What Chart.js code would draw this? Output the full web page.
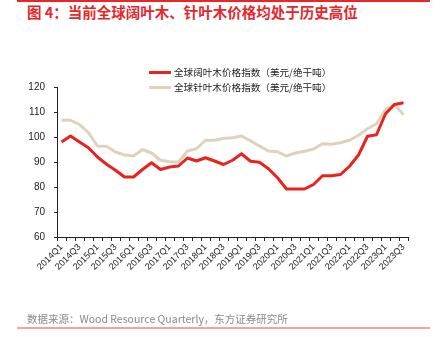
<!DOCTYPE html>
<html>
<head>
<meta charset="utf-8">
<script src="https://cdn.jsdelivr.net/npm/chart.js@4/dist/chart.umd.min.js"></script>
<style>
    body { margin: 0; background: #fff; }
    #wrap { position: relative; width: 445px; height: 337px; overflow: hidden;
            font-family: "Noto Sans CJK SC", "Liberation Sans", sans-serif; }
    #chart { position: absolute; left: 0; top: 0; }
    .rule { position: absolute; left: 17px; width: 413px; }
    #title { position: absolute; left: 27px; top: 3px; font-size: 14.5px; font-weight: bold;
             color: #e8262a; white-space: nowrap; line-height: 18px; }
    #source { position: absolute; left: 27px; top: 312px; font-size: 10.5px; color: #8a8a8a;
              white-space: nowrap; line-height: 14px; }
    #legend { position: absolute; left: 149px; top: 65px; font-size: 9.6px; color: #222; }
    .item { height: 15px; line-height: 15px; white-space: nowrap; }
    .swatch { display: inline-block; width: 22px; height: 3px; vertical-align: middle;
              margin-right: 3px; position: relative; top: -1px; }
</style>
</head>
<body>
<div id="wrap">
    <div class="rule" style="top:0;height:2px;background:#e8262a;"></div>
    <div id="title">图 4：当前全球阔叶木、针叶木价格均处于历史高位</div>
    <canvas id="chart" width="445" height="337"></canvas>
    <div id="legend"></div>
    <div id="source">数据来源：Wood Resource Quarterly，东方证券研究所</div>
    <div class="rule" style="top:327px;height:2px;background:#f2a49e;"></div>
</div>
<script>
'use strict';

const quarters = [
    '2014Q1','2014Q2','2014Q3','2014Q4','2015Q1','2015Q2','2015Q3','2015Q4',
    '2016Q1','2016Q2','2016Q3','2016Q4','2017Q1','2017Q2','2017Q3','2017Q4',
    '2018Q1','2018Q2','2018Q3','2018Q4','2019Q1','2019Q2','2019Q3','2019Q4',
    '2020Q1','2020Q2','2020Q3','2020Q4','2021Q1','2021Q2','2021Q3','2021Q4',
    '2022Q1','2022Q2','2022Q3','2022Q4','2023Q1','2023Q2','2023Q3'
];

// 全球阔叶木价格指数
const hardwood = [
    98.0, 100.4, 98.0, 95.7, 92.0, 89.1, 86.7, 84.0,
    84.0, 87.0, 89.7, 87.0, 88.0, 88.4, 91.6, 90.4,
    91.7, 90.4, 89.0, 90.7, 93.3, 90.3, 89.9, 87.3,
    83.7, 79.2, 79.2, 79.2, 81.0, 84.5, 84.5, 85.0,
    88.3, 92.8, 100.3, 100.9, 109.3, 113.0, 113.7
];

// 全球针叶木价格指数
const softwood = [
    106.7, 106.7, 105.0, 101.7, 96.4, 96.3, 94.0, 92.8,
    92.4, 95.0, 93.6, 90.7, 90.1, 90.0, 94.4, 95.3,
    98.7, 98.7, 99.4, 99.7, 100.4, 98.5, 96.4, 94.4,
    94.1, 92.4, 93.6, 94.3, 95.2, 97.3, 97.1, 97.7,
    98.7, 100.7, 103.3, 105.3, 111.0, 113.0, 108.9
];

const yTicks = { min: 60, max: 120, step: 10 };

const seriesNames = ['全球阔叶木价格指数（美元/绝干吨）', '全球针叶木价格指数（美元/绝干吨）'];
const seriesColors = ['#e8231f', '#ddd3bd'];

const axisColor = '#222';
const tickFont = { family: 'Liberation Sans', size: 10 };

const chart = new Chart(document.getElementById('chart').getContext('2d'), {
    type: 'line',
    data: {
        labels: quarters,
        datasets: [
            {
                label: seriesNames[0],
                data: hardwood,
                borderColor: seriesColors[0],
                borderWidth: 3,
                pointRadius: 0,
                tension: 0,
                borderJoinStyle: 'round',
                fill: false
            },
            {
                label: seriesNames[1],
                data: softwood,
                borderColor: seriesColors[1],
                borderWidth: 3,
                pointRadius: 0,
                tension: 0,
                borderJoinStyle: 'round',
                fill: false
            }
        ]
    },
    options: {
        responsive: false,
        animation: false,
        devicePixelRatio: 1,
        layout: { padding: { left: 0, top: 87, right: 37, bottom: 0 } },
        plugins: {
            legend: { display: false },
            title: { display: false },
            tooltip: { enabled: false }
        },
        scales: {
            x: {
                offset: true,
                grid: {
                    offset: true,
                    drawOnChartArea: false,
                    drawTicks: true,
                    tickLength: 4,
                    color: axisColor
                },
                border: { color: axisColor, width: 1 },
                ticks: {
                    autoSkip: false,
                    minRotation: 45,
                    maxRotation: 45,
                    padding: 1,
                    color: axisColor,
                    font: { family: 'Liberation Sans', size: 9 },
                    callback: function (value, index) {
                        return index % 2 === 0 ? quarters[index] : '';
                    }
                },
                afterFit: function (scale) { scale.height = 100; }
            },
            y: {
                min: yTicks.min,
                max: yTicks.max,
                grid: {
                    drawOnChartArea: false,
                    drawTicks: true,
                    tickLength: 3,
                    color: axisColor
                },
                border: { color: axisColor, width: 1 },
                ticks: {
                    stepSize: yTicks.step,
                    padding: 9,
                    color: axisColor,
                    font: tickFont
                },
                afterFit: function (scale) { scale.width = 57; }
            }
        }
    }
});

// legend as html, built from the datasets
const legendBox = document.getElementById('legend');
chart.data.datasets.forEach(function (ds) {
    const row = document.createElement('div');
    row.className = 'item';
    const sw = document.createElement('span');
    sw.className = 'swatch';
    sw.style.background = ds.borderColor;
    row.appendChild(sw);
    row.appendChild(document.createTextNode(ds.label));
    legendBox.appendChild(row);
});
</script>
</body>
</html>
